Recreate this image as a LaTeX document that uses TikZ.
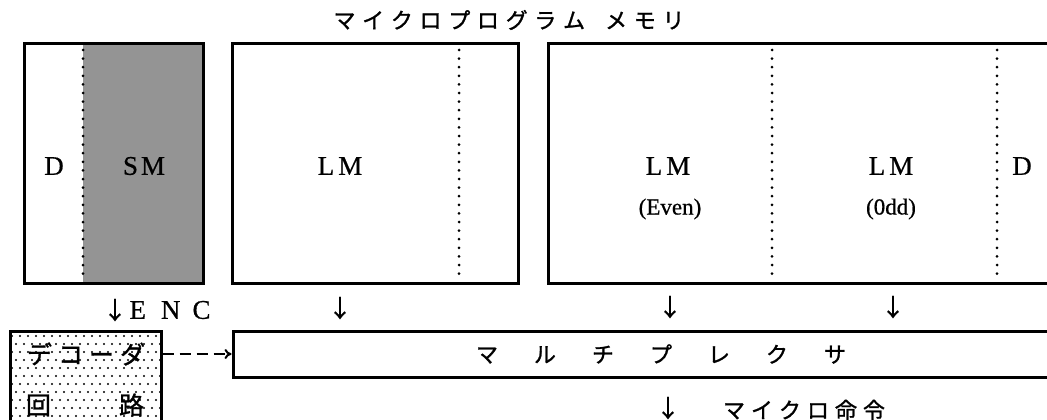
\documentclass[tikz,border=0pt]{standalone}
\usepackage{fontspec}
\setmainfont{Liberation Serif}[FakeBold=0.6]
\newfontfamily\jp{Noto Sans CJK JP}[FakeBold=1.2]
\usetikzlibrary{arrows.meta}
\begin{document}
\begin{tikzpicture}[x=1pt,y=-1pt,
  box/.style={draw, line width=3pt, rectangle, inner sep=0pt},
  dotline/.style={line width=3pt, line cap=round, dash pattern=on 0pt off 8.6pt},
  lat/.style={inner sep=0pt, font=\fontsize{27}{30}\selectfont},
  latsm/.style={inner sep=0pt, font=\fontsize{23}{26}\selectfont},
  jptxt/.style={inner sep=0pt, font=\jp\fontsize{22}{26}\selectfont},
  jpbig/.style={inner sep=0pt, font=\jp\fontsize{25}{28}\selectfont},
  arr/.style={inner sep=0pt, font=\jp\fontsize{24}{28}\selectfont},
  dasharrow/.style={line width=2pt, dash pattern=on 11pt off 6pt, -{To[length=7pt,width=10pt]}}
]
\useasboundingbox (0,0) rectangle (1047,420);
\clip (0,0) rectangle (1047,420);
\fill[white] (0,0) rectangle (1047,420);

% title
\node[jptxt] (title) at (509,20) {マ\kern6.7pt イ\kern6.7pt ク\kern6.7pt ロ\kern6.7pt プ\kern6.7pt ロ\kern6.7pt グ\kern6.7pt ラ\kern6.7pt ム\kern20pt メ\kern6.7pt モ\kern6.7pt リ};

% box 1 : D | SM
\fill[black!42] (83,44) rectangle (203,283);
\node[box, minimum width=179pt, minimum height=239pt] (b1) at (113.5,163.5) {};
\draw[dotline] (83,50) -- (83,278);
\node[lat] (d1) at (54,166) {D};
\node[lat] (sm) at (144,166) {S\kern3pt M};

% box 2 : LM
\node[box, minimum width=286pt, minimum height=239pt] (b2) at (375,163.5) {};
\draw[dotline] (459,50) -- (459,278);
\node[lat] (lm1) at (340,166) {L\kern4pt M};

% box 3 : LM(Even) | LM(0dd) | D
\node[box, minimum width=530pt, minimum height=239pt] (b3) at (813,163.5) {};
\draw[dotline] (772,50) -- (772,278);
\draw[dotline] (997,50) -- (997,278);
\node[lat] (lm2) at (668,166) {L\kern4pt M};
\node[latsm] (even) at (670,209) {(Even)};
\node[lat] (lm3) at (891,166) {L\kern4pt M};
\node[latsm] (odd) at (891,209) {(0dd)};
\node[lat] (d2) at (1022,166) {D};

% down arrows and ENC
\node[arr] (a0) at (115,310) {↓};
\node[lat] (enc) at (170,310) {E\kern15pt N\kern12pt C};
\node[arr] (a1) at (340,308) {↓};
\node[arr] (a2) at (670,307) {↓};
\node[arr] (a3) at (893,307) {↓};

% decoder box
\begin{scope}
\clip (10,331) rectangle (161,440);
\foreach \j in {0,...,13}{
  \foreach \i in {0,...,19}{
    \fill ({12+\i*8+mod(\j,2)*4},{336+\j*8}) circle[radius=1.1pt];
  }
}
\end{scope}
\node[box, minimum width=151pt, minimum height=109pt] (dec) at (85.5,385.5) {};
\node[jpbig] (dectxt) at (86,354) {デ\kern6pt コ\kern6pt ー\kern6pt ダ};
\node[jpbig] (kairo) at (85,405) {回\kern68pt 路};

% multiplexer
\node[box, minimum width=845pt, minimum height=46pt] (mux) at (655.5,354) {};
\node[jptxt] (muxtxt) at (661,354) {マ\kern36pt ル\kern36pt チ\kern36pt プ\kern36pt レ\kern36pt ク\kern36pt サ};

% dashed connector
\draw[dasharrow] (dec.east |- mux.west) -- (mux.west);

% output
\node[arr] (a4) at (668,408) {↓};
\node[jptxt] (micro) at (804,410) {マ\kern6pt イ\kern6pt ク\kern6pt ロ\kern6pt 命\kern6pt 令};
\end{tikzpicture}
\end{document}
